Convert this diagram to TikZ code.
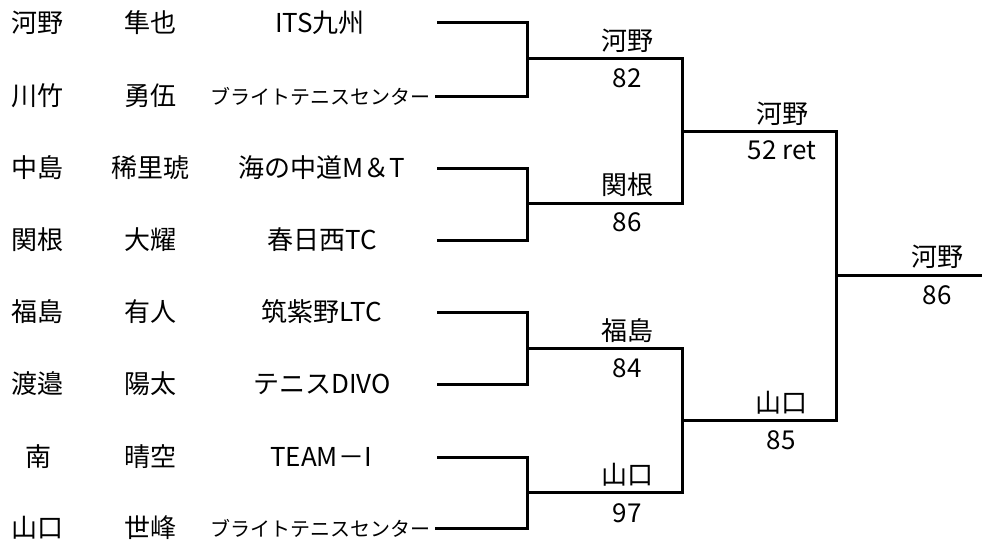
\documentclass[tikz,border=0pt]{standalone}
\usepackage{fontspec}
\setmainfont{Noto Sans CJK JP}

\begin{document}
\begin{tikzpicture}[x=1pt,y=-1pt,
	every node/.style={inner sep=0pt,font=\fontsize{26}{26}\selectfont},
	small/.style={font=\fontsize{20}{20}\selectfont},
	bar/.style={line width=3pt}]
	\useasboundingbox (0,0) rectangle (982,543);
					%Players
					\node (sei1) at (38,23) {河野};  \node (mei1) at (150,23) {隼也};   \node (club1) at (320,23) {ITS九州};
					\node (sei2) at (38,96) {川竹};  \node (mei2) at (150,96) {勇伍};   \node[small,anchor=east] (club2) at (431,96) {ブライトテニスセンター};
					\node (sei3) at (38,168) {中島}; \node (mei3) at (150,168) {稀里琥}; \node (club3) at (322,168) {海の中道M＆T};
					\node (sei4) at (38,240) {関根}; \node (mei4) at (150,240) {大耀};   \node (club4) at (322,240) {春日西TC};
					\node (sei5) at (38,312) {福島}; \node (mei5) at (150,312) {有人};   \node (club5) at (322,312) {筑紫野LTC};
					\node (sei6) at (38,384) {渡邉}; \node (mei6) at (150,384) {陽太};   \node (club6) at (322,384) {テニスDIVO};
					\node (sei7) at (38,457) {南};   \node (mei7) at (150,457) {晴空};   \node (club7) at (321,457) {TEAM－I};
					\node (sei8) at (38,528) {山口}; \node (mei8) at (150,528) {世峰};   \node[small,anchor=east] (club8) at (431,528) {ブライトテニスセンター};
					%Line ends
					\coordinate (p1) at (437,23);  \coordinate (p2) at (435,96);
					\coordinate (p3) at (437,168); \coordinate (p4) at (437,240);
					\coordinate (p5) at (437,312); \coordinate (p6) at (437,384);
					\coordinate (p7) at (437,457); \coordinate (p8) at (435,528);
					%Depth 1
					\coordinate (a1) at (527,59);  \coordinate (a2) at (527,203);
					\coordinate (a3) at (527,348); \coordinate (a4) at (527,492);
					\draw[bar] (p1) -| (a1) |- (p2);
					\draw[bar] (p3) -| (a2) |- (p4);
					\draw[bar] (p5) -| (a3) |- (p6);
					\draw[bar] (p7) -| (a4) |- (p8);
					\node (w1) at (627,41) {河野};  \node (s1) at (627,78) {82};
					\node (w2) at (627,185) {関根}; \node (s2) at (627,222) {86};
					\node (w3) at (627,331) {福島}; \node (s3) at (627,368) {84};
					\node (w4) at (627,475) {山口}; \node (s4) at (627,513) {97};
					%Depth 2
					\coordinate (b1) at (682,131); \coordinate (b2) at (682,420);
					\draw[bar] (a1) -| (b1) |- (a2);
					\draw[bar] (a3) -| (b2) |- (a4);
					\node (w5) at (782,114) {河野}; \node (s5) at (782,150) {52 ret};
					\node (w6) at (781,403) {山口}; \node (s6) at (781,440) {85};
					%Final
					\coordinate (c1) at (836,275.5); \coordinate (champ) at (982,275.5);
					\draw[bar] (b1) -| (c1) |- (b2);
					\draw[bar] (c1) -- (champ);
					\node (w7) at (937,257) {河野}; \node (s7) at (937,295) {86};
\end{tikzpicture}
\end{document}
